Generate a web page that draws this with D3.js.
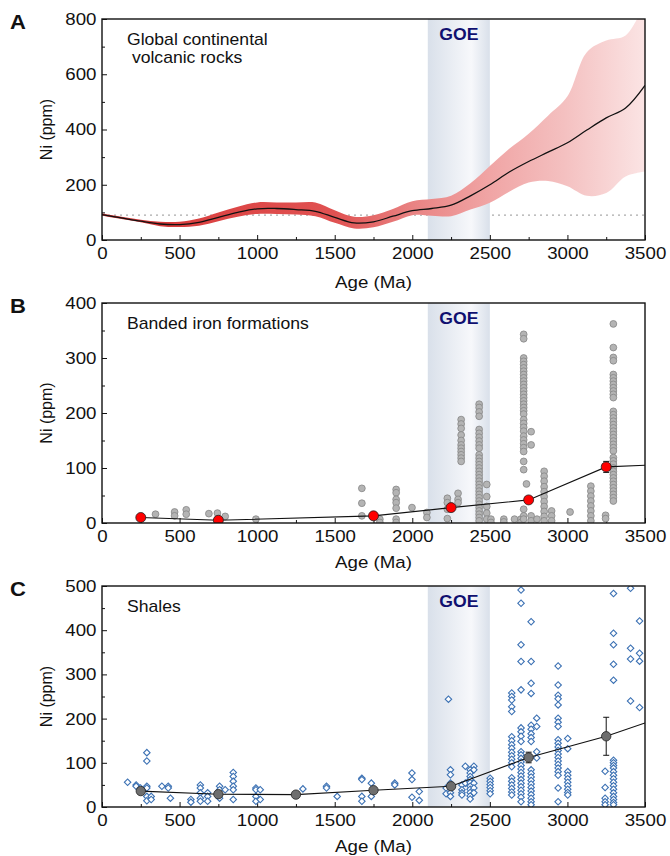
<!DOCTYPE html>
<html>
<head>
<meta charset="utf-8">
<script src="https://cdn.jsdelivr.net/npm/d3@7"></script>
<style>
  body { margin: 0; background: #fff; }
  text { font-family: "Liberation Sans", Arial, sans-serif; fill: #111; }
</style>
</head>
<body>
<script>
// ---- Panel A: global continental volcanic rocks (smoothed mean and band) ----
const volcAge  = [0, 125, 250, 375, 500, 625, 750, 875, 1000, 1125, 1250, 1375, 1500, 1625, 1750, 1875, 2000, 2125, 2250, 2375, 2500, 2625, 2750, 2875, 3000, 3125, 3250, 3375, 3500];
const volcMean = [92, 80, 68, 58, 56, 64, 82, 100, 113, 114, 110, 104, 82, 62, 66, 86, 106, 114, 126, 160, 200, 246, 284, 318, 352, 398, 442, 478, 560];
const volcLow  = [88, 76, 64, 50, 47, 52, 68, 84, 94, 94, 92, 86, 62, 42, 46, 66, 90, 88, 86, 110, 135, 175, 208, 214, 195, 160, 170, 230, 248];
const volcHigh = [96, 84, 73, 66, 66, 78, 100, 120, 136, 136, 136, 136, 108, 84, 90, 112, 140, 148, 160, 205, 268, 330, 385, 450, 520, 680, 722, 740, 860];
const volcRef = 90;

// ---- Panel B: banded iron formations ----
const bifBinAge = [250, 750, 1750, 2250, 2750, 3250];
const bifBinNi  = [10, 5, 13, 28, 42, 102];
const bifBinErr = [2, 2, 2, 3, 4, 10];
const bifEndNi = 105;
const bifSamples = [
  [345, [16]], [468, [20, 13]], [543, [24, 16]], [689, [17]], [744, [18, 7]], [794, [12]], [992, [7]],
  [1675, [63, 36, 13]], [1791, [7, 1]], [1896, [61, 55, 43, 37, 27, 7, 1]], [1998, [28]], [2094, [19, 10]],
  [2226, [45, 37, 25, 8]], [2295, [54, 43, 37]],
  [2315, [188, 180, 172, 160, 150, 142, 136, 130, 124, 118, 112]],
  [2431, [216, 210, 202, 194, 170, 163, 156, 149, 142, 136, 124, 118, 112, 106, 100, 94, 88, 82, 76, 70, 64, 58, 52, 46, 40, 34, 28, 22, 16, 10, 4]],
  [2480, [70, 48, 30, 18, 7]], [2507, [7, 1]], [2590, [7, 2]], [2659, [7]], [2700, [7, 1]],
  [2718, [343, 335, 300, 294, 288, 282, 276, 270, 264, 258, 252, 246, 240, 234, 228, 222, 216, 210, 204, 198, 188, 181, 174, 167, 158, 151, 144, 137, 130, 112, 97, 25, 13, 7]],
  [2736, [71]], [2766, [166, 142, 13, 4]], [2804, [7]],
  [2850, [94, 85, 76, 66, 57, 48, 39, 30, 21, 12, 4]], [2898, [22, 13, 4]], [3017, [20]],
  [3151, [67, 58, 49, 40, 31, 22, 13, 4]], [3246, [14, 8]],
  [3296, [362, 319, 301, 295, 270, 264, 258, 252, 246, 240, 234, 228, 203, 197, 191, 185, 179, 173, 167, 161, 155, 149, 143, 137, 131, 119, 113, 107, 100, 94, 88, 82, 76, 70, 64, 58, 52, 46, 40]]
];

// ---- Panel C: shales ----
const shaleBinAge = [250, 750, 1250, 1750, 2250, 2750, 3250];
const shaleBinNi  = [36, 29, 28, 38, 47, 112, 160];
const shaleBinErr = [3, 3, 2, 3, 4, 12, 43];
const shaleEndNi = 190;
const shaleSamples = [
  [165, [56]], [220, [50, 47]], [248, [43]], [289, [123, 104, 47, 43, 24, 14]], [317, [24, 17]],
  [386, [47]], [427, [47, 43]], [441, [20]], [573, [17, 11]], [634, [50, 43, 32, 20, 13]],
  [681, [32, 24, 13]], [758, [47, 39, 20]], [794, [39]], [846, [78, 69, 58, 47, 39, 17]],
  [992, [43, 39, 24, 13]], [1020, [39, 17]], [1295, [41]], [1447, [47, 43]], [1516, [24]],
  [1675, [65, 62, 24, 13]], [1736, [54, 24]], [1887, [54, 50]], [1998, [77, 62, 22]], [2045, [35, 15]],
  [2218, [43, 30]], [2233, [244]], [2246, [84, 73, 54, 32, 24]], [2320, [50, 39, 32, 27]],
  [2342, [92, 54]], [2373, [84, 77, 69, 62, 55, 47, 40, 33, 25, 18]], [2397, [92, 84, 54, 43, 32]],
  [2502, [65, 58, 51, 44, 37, 30]],
  [2641, [258, 250, 242, 227, 216, 159, 150, 141, 133, 124, 116, 108, 100, 91, 66, 58, 50, 42, 34, 27]],
  [2701, [491, 461, 367, 329, 265, 179, 170, 160, 148, 125, 118, 110, 102, 94, 86, 78, 70, 62, 54, 46, 38, 30, 22, 12]],
  [2766, [419, 329, 280, 257, 185, 176, 166, 157, 148, 84, 76, 68, 60, 52, 44, 36, 28, 20, 12, 5]],
  [2802, [201, 182, 125, 111]],
  [2940, [319, 276, 253, 245, 231, 201, 192, 182, 152, 144, 136, 128, 120, 112, 104, 96, 88, 80, 72, 43, 12]],
  [3002, [155, 132, 80, 72, 64, 56, 48, 40, 33, 27]],
  [3243, [81, 44, 20, 12, 5]],
  [3297, [483, 393, 367, 323, 287, 106, 100, 94, 88, 80, 72, 64, 56, 48, 40, 32, 24, 17, 10, 5]],
  [3407, [495, 359, 335, 240]], [3465, [421, 348, 330, 225]]
];

const goe = [2100, 2500];
const xTicks = [0, 500, 1000, 1500, 2000, 2500, 3000, 3500];
const xMinor = [250, 750, 1250, 1750, 2250, 2750, 3250];

/////////////////////////

const W = 670, H = 856;
const svg = d3.select("body").append("svg").attr("width", W).attr("height", H);
const defs = svg.append("defs");

const x = d3.scaleLinear().domain([0, 3500]).range([102, 645]);

// GOE shading gradient
const goeGrad = defs.append("linearGradient").attr("id", "goeGrad");
goeGrad.append("stop").attr("offset", "0%").attr("stop-color", "#d9e0ea");
goeGrad.append("stop").attr("offset", "70%").attr("stop-color", "#f7f8fb");
goeGrad.append("stop").attr("offset", "100%").attr("stop-color", "#d9e0ea");

// red band gradient (dark red -> pale pink with age)
const bandGrad = defs.append("linearGradient").attr("id", "bandGrad")
  .attr("gradientUnits", "userSpaceOnUse")
  .attr("x1", x(0)).attr("x2", x(3500)).attr("y1", 0).attr("y2", 0);
[[0, "#cf3030"], [0.2, "#dc4444"], [0.43, "#e05252"], [0.57, "#e98282"], [0.71, "#f0a4a4"], [0.85, "#f4c0c0"], [1, "#fbe4e4"]]
  .forEach(([o, c]) => bandGrad.append("stop").attr("offset", o).attr("stop-color", c));

const scaleX = 1.1; // glyphs in the figure look slightly wide
const fmt = d3.format("d");

function panel(cfg) {
  const y = d3.scaleLinear().domain([0, cfg.ymax]).range([cfg.bottom, cfg.top]);
  const g = svg.append("g");

  defs.append("clipPath").attr("id", "clip" + cfg.letter)
    .append("rect").attr("x", x(0)).attr("y", cfg.top)
    .attr("width", x(3500) - x(0)).attr("height", cfg.bottom - cfg.top);

  // GOE band
  g.append("rect")
    .attr("x", x(goe[0])).attr("y", cfg.top)
    .attr("width", x(goe[1]) - x(goe[0])).attr("height", cfg.bottom - cfg.top)
    .attr("fill", "url(#goeGrad)");
  g.append("text")
    .attr("x", x(2300)).attr("y", cfg.top + 21)
    .attr("text-anchor", "middle")
    .attr("font-size", 16).attr("font-weight", "bold")
    .style("fill", "#101070")
    .attr("transform", `translate(${x(2300)},0) scale(${scaleX},1) translate(${-x(2300)},0)`)
    .text("GOE");

  // axes: ticks point inward
  const gx = g.append("g").attr("transform", `translate(0,${cfg.bottom})`);
  gx.call(d3.axisBottom(x).tickValues(xTicks).tickFormat(fmt).tickSize(-5).tickSizeOuter(0).tickPadding(7));
  gx.append("g").call(d3.axisBottom(x).tickValues(xMinor).tickSize(-3).tickFormat(""));
  const gy = g.append("g").attr("transform", `translate(${x(0)},0)`);
  gy.call(d3.axisLeft(y).tickValues(d3.range(0, cfg.ymax + 1, cfg.ystep)).tickFormat(fmt).tickSize(-5).tickSizeOuter(0).tickPadding(5));
  gy.append("g").call(d3.axisLeft(y).tickValues(d3.range(cfg.ystep / 2, cfg.ymax, cfg.ystep)).tickSize(-3).tickFormat(""));
  g.selectAll(".domain").remove();
  g.selectAll(".tick line").attr("stroke", "#111").attr("stroke-width", 1);
  g.selectAll(".tick text").attr("font-size", 17).style("font-family", '"Liberation Sans", Arial, sans-serif')
    .style("fill", "#111")
    .attr("transform", `scale(${scaleX},1)`);

  // titles
  g.append("text").attr("x", (x(0) + x(3500)) / 2).attr("y", cfg.bottom + cfg.xlabGap)
    .attr("text-anchor", "middle").attr("font-size", 17)
    .attr("transform", `translate(${(x(0) + x(3500)) / 2},0) scale(${scaleX},1) translate(${-(x(0) + x(3500)) / 2},0)`)
    .text("Age (Ma)");
  g.append("text")
    .attr("transform", `translate(52,${(cfg.top + cfg.bottom) / 2}) rotate(-90)`)
    .attr("text-anchor", "middle").attr("font-size", 16)
    .text("Ni (ppm)");
  g.append("text").attr("x", 10 / scaleX).attr("y", cfg.top + 10)
    .attr("font-size", 20).attr("font-weight", "bold")
    .attr("transform", `scale(${scaleX},1)`)
    .text(cfg.letter);
  cfg.label.forEach((t, i) => {
    g.append("text").attr("x", 127 / scaleX).attr("y", cfg.top + 26 + i * 18)
      .attr("font-size", 16).attr("transform", `scale(${scaleX},1)`)
      .attr("xml:space", "preserve")
      .text(t);
  });

  const plot = svg.append("g").attr("clip-path", `url(#clip${cfg.letter})`);
  const front = svg.append("g");
  // frame
  front.append("rect").attr("x", x(0)).attr("y", cfg.top)
    .attr("width", x(3500) - x(0)).attr("height", cfg.bottom - cfg.top)
    .attr("fill", "none").attr("stroke", "#111").attr("stroke-width", 1.4);
  return { y, plot, g };
}

// error bars with caps, means on top
function drawBins(plot, y, bins, endNi, fill, r) {
  plot.append("path").datum(bins.concat([{ a: 3500, v: endNi }]))
    .attr("d", d3.line().x(d => x(d.a)).y(d => y(d.v)))
    .attr("fill", "none").attr("stroke", "#111").attr("stroke-width", 1.1);
  const eb = plot.selectAll("g.err").data(bins).join("g").attr("class", "err");
  eb.append("line").attr("x1", d => x(d.a)).attr("x2", d => x(d.a))
    .attr("y1", d => y(d.v - d.e)).attr("y2", d => y(d.v + d.e))
    .attr("stroke", "#111").attr("stroke-width", 1);
  [-1, 1].forEach(s => eb.append("line")
    .attr("x1", d => x(d.a) - 3).attr("x2", d => x(d.a) + 3)
    .attr("y1", d => y(d.v + s * d.e)).attr("y2", d => y(d.v + s * d.e))
    .attr("stroke", "#111").attr("stroke-width", 1));
  plot.selectAll("circle.m").data(bins).join("circle").attr("class", "m")
    .attr("cx", d => x(d.a)).attr("cy", d => y(d.v)).attr("r", r)
    .attr("fill", fill).attr("stroke", "#222").attr("stroke-width", 0.8);
}

// ----- A -----
{
  const { y, plot, g } = panel({ letter: "A", top: 19, bottom: 240, ymax: 800, ystep: 200, xlabGap: 48,
    label: ["Global continental", " volcanic rocks"] });
  // dotted reference under the GOE band
  g.insert("line", ":first-child")
    .attr("x1", x(0)).attr("x2", x(3500)).attr("y1", y(volcRef)).attr("y2", y(volcRef))
    .attr("stroke", "#aaa").attr("stroke-width", 1.2).attr("stroke-dasharray", "2,4");
  const rows = volcAge.map((a, i) => ({ a, m: volcMean[i], lo: volcLow[i], hi: volcHigh[i] }));
  plot.append("path").datum(rows)
    .attr("d", d3.area().x(d => x(d.a)).y0(d => y(d.lo)).y1(d => y(d.hi)).curve(d3.curveCatmullRom.alpha(0.5)))
    .attr("fill", "url(#bandGrad)");
  plot.append("path").datum(rows)
    .attr("d", d3.line().x(d => x(d.a)).y(d => y(d.m)).curve(d3.curveCatmullRom.alpha(0.5)))
    .attr("fill", "none").attr("stroke", "#111").attr("stroke-width", 1.3);
}

// ----- B -----
{
  const { y, plot } = panel({ letter: "B", top: 303, bottom: 523, ymax: 400, ystep: 100, xlabGap: 45,
    label: ["Banded iron formations"] });
  const pts = bifSamples.flatMap(([a, vs]) => vs.map(v => ({ a, v })));
  plot.selectAll("circle.s").data(pts).join("circle").attr("class", "s")
    .attr("cx", d => x(d.a)).attr("cy", d => y(d.v)).attr("r", 3.4)
    .attr("fill", "#b4b4b4").attr("stroke", "#858585").attr("stroke-width", 0.8);
  const bins = bifBinAge.map((a, i) => ({ a, v: bifBinNi[i], e: bifBinErr[i] }));
  drawBins(plot, y, bins, bifEndNi, "#f00", 5);
}

// ----- C -----
{
  const { y, plot } = panel({ letter: "C", top: 586, bottom: 807, ymax: 500, ystep: 100, xlabGap: 45,
    label: ["Shales"] });
  const pts = shaleSamples.flatMap(([a, vs]) => vs.map(v => ({ a, v })));
  const diamond = d3.symbol().type(d3.symbolSquare).size(21);
  plot.selectAll("path.s").data(pts).join("path").attr("class", "s")
    .attr("d", diamond)
    .attr("transform", d => `translate(${x(d.a)},${y(d.v)}) rotate(45)`)
    .attr("fill", "#fff").attr("stroke", "#3d72b4").attr("stroke-width", 1.1);
  const bins = shaleBinAge.map((a, i) => ({ a, v: shaleBinNi[i], e: shaleBinErr[i] }));
  drawBins(plot, y, bins, shaleEndNi, "#6e6e6e", 4.7);
}
</script>
</body>
</html>
